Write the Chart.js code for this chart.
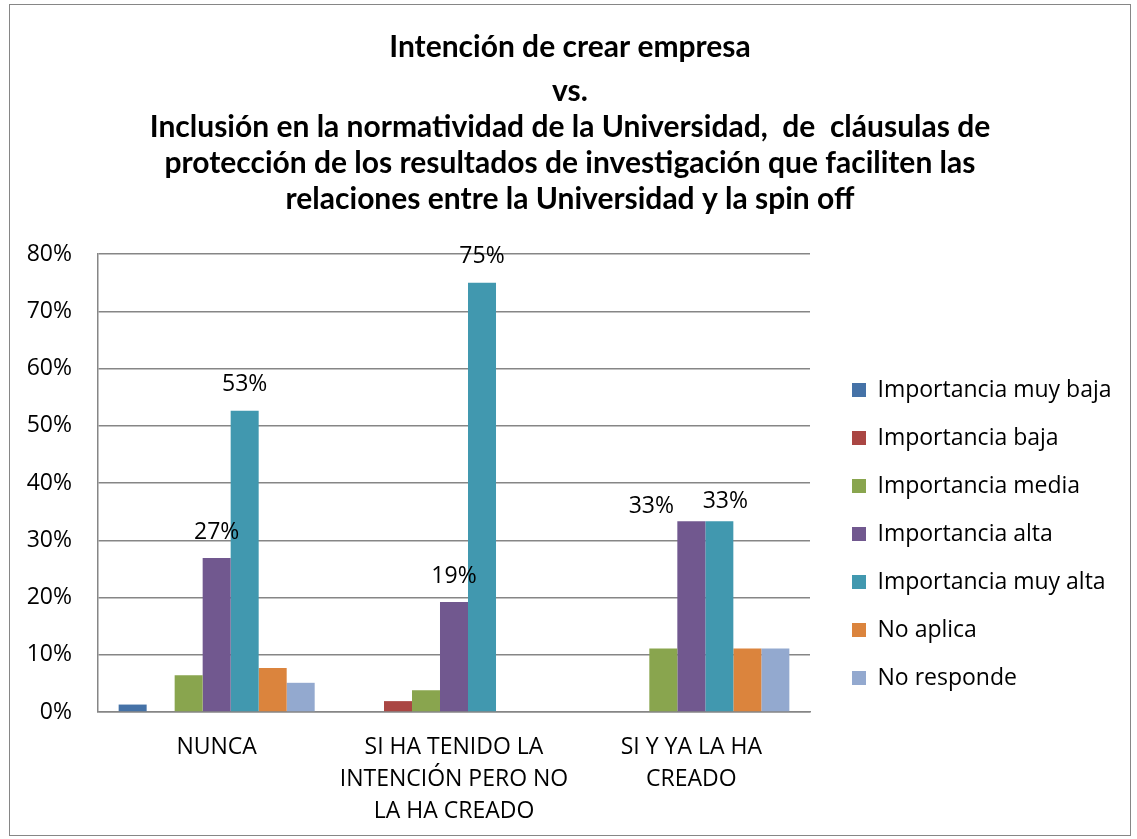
<!DOCTYPE html>
<html>
<head>
<meta charset="utf-8">
<script src="https://cdn.jsdelivr.net/npm/chart.js@4/dist/chart.umd.min.js"></script>
<style>
  body { margin: 0; background: #fff; }
  #wrap { position: absolute; left: 9px; top: 4px; width: 1120px; height: 830px; border: 1px solid #868686; }
</style>
</head>
<body>
<div id="wrap"><canvas id="chart" width="1120" height="830"></canvas></div>
<script>
const categories = [
    ['NUNCA'],
    ['SI HA TENIDO LA', 'INTENCIÓN PERO NO', 'LA HA CREADO'],
    ['SI Y YA LA HA', 'CREADO']
];

const seriesNames = [
    'Importancia muy baja', 'Importancia baja', 'Importancia media',
    'Importancia alta', 'Importancia muy alta', 'No aplica', 'No responde'
];

// percentages per category (NUNCA, SI HA TENIDO, SI Y YA)
const muyBaja   = [1.3, 0, 0];
const baja      = [0, 1.9, 0];
const media     = [6.4, 3.8, 11.1];
const alta      = [26.9, 19.2, 33.3];
const muyAlta   = [52.6, 75.0, 33.3];
const noAplica  = [7.7, 0, 11.1];
const noResp    = [5.1, 0, 11.1];

const yTicks = [0, 10, 20, 30, 40, 50, 60, 70, 80];

const COLORS = ['#4572A7', '#AA4643', '#89A54E', '#71588F', '#4198AF', '#DB843D', '#93A9CF'];
const allSeries = [muyBaja, baja, media, alta, muyAlta, noAplica, noResp];

// only these series get value labels in the original
const labelled = [3, 4];

const FONT = "'Open Sans', 'DejaVu Sans', sans-serif";
const TITLE_FONT = "Lato, 'Open Sans', sans-serif";
const FS = 23;

const valueLabels = {
    id: 'valueLabels',
    afterDatasetsDraw(chart) {
        const ctx = chart.ctx;
        ctx.save();
        ctx.font = `${FS}px ${FONT}`;
        ctx.fillStyle = '#000';
        ctx.textAlign = 'center';
        ctx.textBaseline = 'middle';
        labelled.forEach(di => {
            const meta = chart.getDatasetMeta(di);
            meta.data.forEach((bar, i) => {
                const v = chart.data.datasets[di].data[i];
                if (!v) return;
                let dx = 0, dy = -26;
                if (i === 2) { dy = di === 3 ? -15 : -20; dx = di === 3 ? -40 : 6; }
                ctx.fillText(Math.round(v) + '%', bar.x + dx, bar.y + dy);
            });
        });
        ctx.restore();
    }
};

// fixed legend box: keeps the plot right edge where the original has it
const legendPlace = {
    id: 'legendPlace',
    afterInit(chart) {
        const lg = chart.legend;
        const fit = lg.fit.bind(lg);
        lg.fit = function () { fit(); this.width = 320; };
    },
    afterLayout(chart) {
        const lg = chart.legend;
        lg.left = 817;
        lg.top = 348.5;
    }
};

new Chart(document.getElementById('chart').getContext('2d'), {
    type: 'bar',
    data: {
        labels: categories,
        datasets: allSeries.map((d, i) => ({
            label: seriesNames[i],
            data: d,
            backgroundColor: COLORS[i],
            borderWidth: 0,
            categoryPercentage: 0.826,
            barPercentage: 1
        }))
    },
    options: {
        responsive: false,
        animation: false,
        layout: { padding: { left: 0, right: 0, top: 0, bottom: 8 } },
        plugins: {
            title: {
                display: true,
                text: 'Intención de crear empresa',
                color: '#000',
                font: { family: TITLE_FONT, size: 30, weight: 'bold', lineHeight: 36 / 30 },
                padding: { top: 24, bottom: 8 }
            },
            subtitle: {
                display: true,
                text: [
                    'vs.',
                    'Inclusión en la normatividad de la Universidad,  de  cláusulas de',
                    'protección de los resultados de investigación que faciliten las',
                    'relaciones entre la Universidad y la spin off'
                ],
                color: '#000',
                font: { family: TITLE_FONT, size: 30, weight: 'bold', lineHeight: 36 / 30 },
                padding: { top: 0, bottom: 37 }
            },
            legend: {
                position: 'right',
                align: 'start',
                labels: {
                    color: '#000',
                    font: { family: FONT, size: FS },
                    boxWidth: 14,
                    boxHeight: 14,
                    padding: 25
                }
            },
            tooltip: { enabled: false }
        },
        scales: {
            x: {
                grid: { display: false, drawTicks: false },
                border: { display: true, color: '#868686', width: 1.5 },
                ticks: {
                    color: '#000',
                    font: { family: FONT, size: FS, lineHeight: 31.7 / FS },
                    padding: 20,
                    maxRotation: 0
                },
                afterFit(scale) { scale.height = 115; }
            },
            y: {
                min: 0,
                max: 80,
                afterBuildTicks(scale) { scale.ticks = yTicks.map(v => ({ value: v })); },
                grid: { color: '#868686', lineWidth: 1.5, drawTicks: false },
                border: { display: true, color: '#868686', width: 1.5 },
                ticks: {
                    color: '#000',
                    font: { family: FONT, size: FS },
                    padding: 26,
                    callback: v => v + '%'
                },
                afterFit(scale) { scale.width = 88; }
            }
        }
    },
    plugins: [legendPlace, valueLabels]
});
</script>
</body>
</html>
